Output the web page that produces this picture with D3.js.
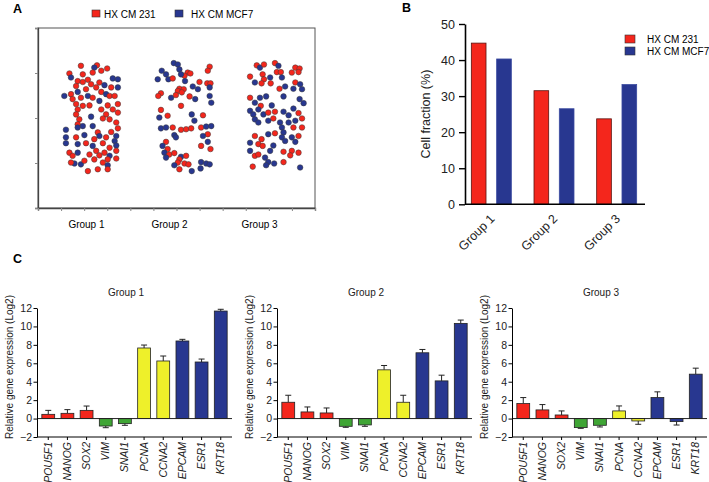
<!DOCTYPE html>
<html>
<head>
<meta charset="utf-8">
<script src="https://cdn.jsdelivr.net/npm/d3@7"></script>
<style>
  body { margin: 0; background: #fff; }
  svg { font-family: "Liberation Sans", Arial, sans-serif; }
</style>
</head>
<body>
<svg id="chart" width="709" height="482"></svg>
<script>
// ---------- data ----------
const seriesNames = ["HX CM 231", "HX CM MCF7"];
const groups = ["Group 1", "Group 2", "Group 3"];

// panel A: one dot per cell, [series (0 = 231, 1 = MCF7), jitter -1..1, y]
const dotsGroup1 = [
  [0,-0.38,3.16],[0,0.22,3.17],[1,0.12,3.12],[0,0.38,3.05],[0,0.6,3.10],[0,-0.81,2.99],[1,-0.75,2.90],[0,-0.31,2.97],
  [0,0.06,3.01],[1,0.81,2.88],[1,1.0,2.86],[0,-0.5,2.82],[0,-0.31,2.80],[0,-0.12,2.85],[0,-0.56,2.71],[0,0,2.75],
  [0,0.31,2.79],[1,0.5,2.73],[0,0.75,2.68],[1,1.0,2.68],[0,0.19,2.68],[0,-0.75,2.53],[1,-0.5,2.58],[0,-0.19,2.64],
  [0,0.38,2.58],[1,0.56,2.53],[0,0.69,2.49],[1,-1.0,2.49],[0,-0.69,2.42],[0,-0.38,2.45],[1,-0.12,2.49],[0,0.06,2.45],
  [1,0.31,2.38],[0,0.88,2.49],[0,-0.56,2.31],[0,-0.31,2.27],[0,-0.06,2.28],[0,-0.5,2.19],[0,0.38,2.19],[0,0.62,2.28],
  [0,1.0,2.31],[0,-0.56,2.08],[0,0.56,2.08],[0,0.81,2.19],[0,1.0,2.12],[0,-0.44,1.97],[1,0,2.03],[0,0.44,1.99],
  [0,0.69,1.97],[0,-0.5,1.86],[1,-0.31,1.82],[0,0.94,1.90],[0,1.0,1.77],[1,-0.94,1.74],[1,0.06,1.82],[0,0.25,1.68],
  [1,-0.5,1.79],[1,-0.25,1.62],[1,0.31,1.60],[0,0.75,1.69],[1,0.94,1.60],[1,-0.94,1.57],[0,-0.56,1.57],[0,0.12,1.53],
  [0,0.56,1.57],[1,-0.94,1.44],[1,-0.5,1.42],[0,-0.19,1.44],[1,0.06,1.38],[0,0.44,1.44],[1,0.88,1.49],[0,0.69,1.34],
  [1,0.94,1.39],[0,-0.81,1.23],[1,-0.5,1.23],[0,-0.06,1.19],[0,0.19,1.27],[0,0.5,1.23],[0,0.94,1.27],[0,-0.69,1.16],
  [0,0.31,1.17],[1,0.69,1.16],[0,0.12,1.08],[0,0.62,1.08],[1,-0.62,0.99],[1,-0.38,0.97],[0,-0.25,1.05],[0,0.44,1.01],
  [0,0.94,1.10],[1,0.62,0.95],[0,-0.12,0.82],[0,0.25,0.86],[0,0.62,0.86],[0,-0.75,1.01]
];
const dotsGroup2 = [
  [1,-0.36,3.22],[1,-0.21,3.19],[1,-0.15,3.08],[0,0.98,3.14],[0,0.91,3.05],[1,-0.81,3.05],[1,-0.65,2.97],[1,-0.96,2.86],
  [0,0.16,3.01],[0,0.26,2.99],[0,0.04,2.94],[1,-0.09,2.97],[1,-0.56,2.86],[0,-0.4,2.88],[1,0.06,2.82],[0,0.6,2.80],
  [0,0.89,2.77],[0,1.01,2.77],[1,0.35,2.70],[0,-0.15,2.65],[0,0.01,2.64],[0,-0.21,2.60],[0,-0.06,2.57],[1,0.54,2.64],
  [1,0.98,2.68],[0,-0.84,2.55],[0,-0.94,2.49],[1,-0.46,2.45],[0,-0.28,2.51],[0,0.23,2.48],[1,0.98,2.49],[1,0.44,2.42],
  [0,-0.09,2.27],[1,1.04,2.34],[0,-0.84,2.18],[1,-0.9,2.01],[0,-0.59,2.05],[1,0.31,2.08],[0,0.73,2.06],[1,0.41,1.94],
  [1,-0.84,1.77],[1,-0.65,1.79],[0,-0.4,1.79],[0,-0.09,1.74],[0,0.1,1.75],[0,0.29,1.77],[1,-0.34,1.62],[0,0.66,1.79],
  [1,0.85,1.81],[1,1.04,1.82],[1,-0.28,1.57],[0,0.91,1.64],[1,0.73,1.60],[0,-0.65,1.47],[1,-0.78,1.38],[0,-0.59,1.31],
  [0,0.66,1.38],[1,0.91,1.47],[0,1.01,1.31],[1,-0.71,1.23],[0,-0.53,1.19],[0,-0.34,1.22],[1,-0.09,1.14],[0,0.1,1.16],
  [0,-0.15,1.08],[0,-0.21,1.01],[0,0.04,0.99],[0,0.19,0.97],[1,0.66,1.02],[1,0.85,0.99],[1,0.98,0.97],[1,-0.65,1.12],
  [1,-0.34,0.95],[0,-0.15,0.86],[1,0.31,0.82],[1,0.64,0.88]
];
const dotsGroup3 = [
  [0,-0.71,3.17],[1,-0.59,3.12],[0,-0.44,3.19],[0,-0.03,3.22],[1,0.1,3.16],[0,0.73,3.12],[0,0.89,3.10],[0,0.85,3.02],
  [0,0.04,3.02],[0,0.19,3.02],[1,-0.21,2.90],[0,-0.96,2.92],[0,-0.49,2.97],[0,-0.44,2.86],[0,0.6,3.01],[1,0.23,2.90],
  [1,-0.78,2.79],[0,-0.53,2.77],[0,-0.19,2.77],[0,0.14,2.65],[1,0.35,2.70],[0,0.73,2.79],[1,0.91,2.75],[1,0.98,2.64],
  [1,0.66,2.65],[0,-0.96,2.45],[1,-0.59,2.45],[1,-0.36,2.48],[1,0.29,2.48],[1,0.89,2.42],[1,1.04,2.33],[1,-0.78,2.34],
  [0,-0.56,2.27],[1,-0.15,2.28],[1,-0.96,2.16],[1,-0.84,2.08],[1,-0.78,1.97],[1,-0.65,2.19],[1,-0.46,2.08],[0,-0.28,2.12],
  [0,-0.03,2.14],[1,0.29,2.14],[1,0.66,2.21],[0,0.85,2.11],[1,0.48,2.06],[0,-0.09,1.99],[1,-0.28,1.94],[1,0.16,1.90],
  [0,0.98,1.99],[1,-0.65,1.90],[1,0.48,1.90],[1,0.73,1.94],[0,0.66,1.79],[1,0.23,1.79],[1,0.29,1.68],[0,-0.03,1.66],
  [1,-0.28,1.64],[0,0.98,1.79],[0,0.85,1.60],[1,0.6,1.57],[1,0.23,1.57],[0,-0.78,1.60],[0,-0.53,1.53],[1,-0.96,1.45],
  [0,-0.65,1.42],[0,-0.49,1.38],[1,0.73,1.47],[1,0.35,1.49],[1,-0.09,1.39],[0,0.6,1.27],[1,-0.21,1.27],[1,-0.96,1.27],
  [0,-0.78,1.16],[0,-0.65,1.19],[1,-0.4,1.12],[0,0.54,1.17],[0,0.29,1.25],[0,0.85,1.23],[1,-0.28,1.02],[1,-0.06,0.99],
  [0,0.29,1.02],[0,-0.86,0.92],[1,-0.36,0.95],[1,0.91,0.90]
];
const dotGroupCenters = [2.3, 6.3, 10.3];
const dotLabelPos = [2.1, 5.7, 9.6];

// panel B: cell fraction (%)
const fraction231 = [44.7, 31.5, 23.7];
const fractionMCF7 = [40.3, 26.5, 33.2];

// panel C: relative gene expression (log2) with error
const genes = ["POU5F1", "NANOG", "SOX2", "VIM", "SNAI1", "PCNA", "CCNA2", "EPCAM", "ESR1", "KRT18"];
const geneClass = ["stem", "stem", "stem", "emt", "emt", "prolif", "prolif", "epi", "epi", "epi"];
const exprGroup1 = [0.46, 0.57, 0.89, -0.81, -0.55, 7.66, 6.25, 8.42, 6.14, 11.67];
const errGroup1 = [0.43, 0.40, 0.47, 0.18, 0.18, 0.32, 0.54, 0.18, 0.32, 0.19];
const exprGroup2 = [1.77, 0.72, 0.61, -0.84, -0.69, 5.29, 1.77, 7.14, 4.09, 10.33];
const errGroup2 = [0.76, 0.54, 0.54, 0.11, 0.15, 0.47, 0.76, 0.36, 0.62, 0.36];
const exprGroup3 = [1.63, 0.94, 0.39, -0.98, -0.73, 0.83, -0.26, 2.28, -0.33, 4.82];
const errGroup3 = [0.65, 0.58, 0.44, 0.08, 0.18, 0.54, 0.36, 0.62, 0.37, 0.65];

// ---------- style ----------
const red = "#f4261c";
const blue = "#283790";
const seriesColor = [red, blue];
const classColor = { stem: "#f4261c", emt: "#3fa535", prolif: "#eef02a", epi: "#283790" };

const svg = d3.select("#chart");
svg.append("rect").attr("width", 709).attr("height", 482).attr("fill", "#fff");

function panelLetter(t, x, y) {
  svg.append("text").attr("x", x).attr("y", y)
    .attr("font-size", 12.5).attr("font-weight", "bold").text(t);
}

// ================= Panel A =================
panelLetter("A", 13, 13);

const xA = d3.scaleLinear().domain([0, 12]).range([38, 315]);
const yA = d3.scaleLinear().domain([0, 4]).range([208, 28]);
const jitterHalf = 1.16;

const gA = svg.append("g");
gA.append("rect")
  .attr("x", xA(0)).attr("y", yA(4))
  .attr("width", xA(12) - xA(0)).attr("height", yA(0) - yA(4))
  .attr("fill", "none").attr("stroke", "#555").attr("stroke-width", 1);

const axALeft = gA.append("g").attr("transform", `translate(${xA(0)},0)`)
  .call(d3.axisLeft(yA).ticks(4).tickSize(3).tickFormat(""));
const axABottom = gA.append("g").attr("transform", `translate(0,${yA(0)})`)
  .call(d3.axisBottom(xA).ticks(12).tickSize(3).tickFormat(""));
[axALeft, axABottom].forEach(a => {
  a.select(".domain").attr("stroke", "#444").attr("stroke-width", 1.3);
  a.selectAll(".tick line").attr("stroke", "#888");
});

[dotsGroup1, dotsGroup2, dotsGroup3].forEach((dots, gi) => {
  gA.append("g").selectAll("circle")
    .data(dots)
    .join("circle")
    .attr("cx", d => xA(dotGroupCenters[gi] + d[1] * jitterHalf))
    .attr("cy", d => yA(d[2]))
    .attr("r", 2.8)
    .attr("fill", d => seriesColor[d[0]])
    .attr("stroke", "#3a3a3a")
    .attr("stroke-width", 0.5);
});

gA.selectAll(".glabel")
  .data(groups)
  .join("text")
  .attr("x", (d, i) => xA(dotLabelPos[i]))
  .attr("y", 228)
  .attr("text-anchor", "middle")
  .attr("font-size", 10)
  .text(d => d);

// legend A
const legA = [[92, 104], [175, 191]];
seriesNames.forEach((s, i) => {
  gA.append("rect").attr("x", legA[i][0]).attr("y", 10).attr("width", 8).attr("height", 7)
    .attr("fill", seriesColor[i]).attr("stroke", "#333").attr("stroke-width", 0.6);
  gA.append("text").attr("x", legA[i][1]).attr("y", 17.5).attr("font-size", 10).text(s);
});

// ================= Panel B =================
panelLetter("B", 402, 12);

const yB = d3.scaleLinear().domain([0, 50]).range([204.3, 24]);
const xB = d3.scaleBand().domain(groups).range([460, 648]);
const xBinner = d3.scaleBand().domain([0, 1]).range([-20, 20]).paddingInner(0.42);

const gB = svg.append("g");
groups.forEach((g, i) => {
  const vals = [fraction231[i], fractionMCF7[i]];
  gB.append("g").selectAll("rect")
    .data(vals)
    .join("rect")
    .attr("x", (d, j) => xB(g) + xB.bandwidth() / 2 + xBinner(j))
    .attr("y", d => yB(d))
    .attr("width", xBinner.bandwidth())
    .attr("height", d => yB(0) - yB(d))
    .attr("fill", (d, j) => seriesColor[j])
    .attr("stroke", (d, j) => j === 0 ? "#5a1410" : "#3a4aa0")
    .attr("stroke-width", 0.8);
});

const axBY = gB.append("g").attr("transform", "translate(465,0)")
  .call(d3.axisLeft(yB).tickValues([0, 10, 20, 30, 40, 50]).tickSize(6).tickPadding(4).tickSizeOuter(0));
axBY.select(".domain").attr("stroke-width", 1.6);
axBY.selectAll(".tick line").attr("stroke-width", 1.4);
axBY.selectAll(".tick text").attr("font-size", 12.5).attr("fill", "#222").attr("font-family", "Liberation Sans, Arial, sans-serif");

gB.append("line").attr("x1", 465).attr("x2", 645).attr("y1", yB(0)).attr("y2", yB(0))
  .attr("stroke", "#000").attr("stroke-width", 1.6);

gB.selectAll(".xlab")
  .data(groups)
  .join("text")
  .attr("transform", d => `translate(${xB(d) + xB.bandwidth() / 2 - 2},${yB(0) + 9}) rotate(-45)`)
  .attr("text-anchor", "end")
  .attr("dy", "0.7em")
  .attr("font-size", 12.5)
  .attr("fill", "#222")
  .text(d => d);

gB.append("text")
  .attr("transform", `translate(429.5,${(yB(0) + yB(50)) / 2}) rotate(-90)`)
  .attr("text-anchor", "middle")
  .attr("font-size", 12.5)
  .attr("fill", "#222")
  .text("Cell fraction (%)");

seriesNames.forEach((s, i) => {
  gB.append("rect").attr("x", 625).attr("y", 35 + i * 12).attr("width", 10).attr("height", 8)
    .attr("fill", seriesColor[i]).attr("stroke", "#333").attr("stroke-width", 0.6);
  gB.append("text").attr("x", 647).attr("y", 43 + i * 12).attr("font-size", 10).text(s);
});

// ================= Panel C =================
panelLetter("C", 13, 263);

const exprSets = [
  { title: "Group 1", vals: exprGroup1, errs: errGroup1, left: 37 },
  { title: "Group 2", vals: exprGroup2, errs: errGroup2, left: 277 },
  { title: "Group 3", vals: exprGroup3, errs: errGroup3, left: 512 }
];

exprSets.forEach(set => {
  const g = svg.append("g");
  const y = d3.scaleLinear().domain([-2, 12]).range([437, 308]);
  const x = d3.scaleBand().domain(genes).range([set.left + 1, set.left + 194]).paddingInner(0.33).paddingOuter(0.2);
  const data = genes.map((gn, i) => ({ gene: gn, v: set.vals[i], e: set.errs[i], cls: geneClass[i] }));

  // error bars
  const eb = g.append("g").selectAll("g").data(data).join("g");
  eb.append("line")
    .attr("x1", d => x(d.gene) + x.bandwidth() / 2)
    .attr("x2", d => x(d.gene) + x.bandwidth() / 2)
    .attr("y1", d => y(d.v))
    .attr("y2", d => y(d.v + Math.sign(d.v) * d.e))
    .attr("stroke", "#222").attr("stroke-width", 1);
  eb.append("line")
    .attr("x1", d => x(d.gene) + x.bandwidth() / 2 - 3)
    .attr("x2", d => x(d.gene) + x.bandwidth() / 2 + 3)
    .attr("y1", d => y(d.v + Math.sign(d.v) * d.e))
    .attr("y2", d => y(d.v + Math.sign(d.v) * d.e))
    .attr("stroke", "#222").attr("stroke-width", 1);

  g.append("g").selectAll("rect")
    .data(data)
    .join("rect")
    .attr("x", d => x(d.gene))
    .attr("y", d => y(Math.max(0, d.v)))
    .attr("width", x.bandwidth())
    .attr("height", d => Math.abs(y(d.v) - y(0)))
    .attr("fill", d => classColor[d.cls])
    .attr("stroke", "#222")
    .attr("stroke-width", 0.8);

  // zero line
  g.append("line").attr("x1", set.left).attr("x2", set.left + 195)
    .attr("y1", y(0)).attr("y2", y(0)).attr("stroke", "#222").attr("stroke-width", 1);

  const ay = g.append("g").attr("transform", `translate(${set.left},0)`)
    .call(d3.axisLeft(y).tickValues(d3.range(-2, 13, 2)).tickSize(3.5).tickPadding(1.5).tickSizeOuter(0)
      .tickFormat(d => d < 0 ? "\u2212" + Math.abs(d) : d));
  ay.selectAll(".tick text").attr("font-size", 10.5).attr("fill", "#222").attr("font-family", "Liberation Sans, Arial, sans-serif");

  const ax = g.append("g").attr("transform", `translate(0,${y(-2)})`)
    .call(d3.axisBottom(x).tickSize(3).tickSizeOuter(0).tickFormat(""));
  ax.select(".domain").attr("d", `M${set.left},0H${set.left + 195}`);

  g.selectAll(".gname")
    .data(genes)
    .join("text")
    .attr("transform", d => `translate(${x(d) + x.bandwidth() / 2 + 3.5},${y(-2) + 5}) rotate(-90)`)
    .attr("text-anchor", "end")
    .attr("font-size", 10.5)
    .attr("font-style", "italic")
    .attr("fill", "#222")
    .text(d => d);

  g.append("text")
    .attr("x", set.left + 89).attr("y", 295.5)
    .attr("text-anchor", "middle").attr("font-size", 10).attr("fill", "#222")
    .text(set.title);

  g.append("text")
    .attr("transform", `translate(${set.left - 24.5},367) rotate(-90)`)
    .attr("text-anchor", "middle").attr("font-size", 10).attr("fill", "#222")
    .text("Relative gene expression (Log2)");
});
</script>
</body>
</html>
